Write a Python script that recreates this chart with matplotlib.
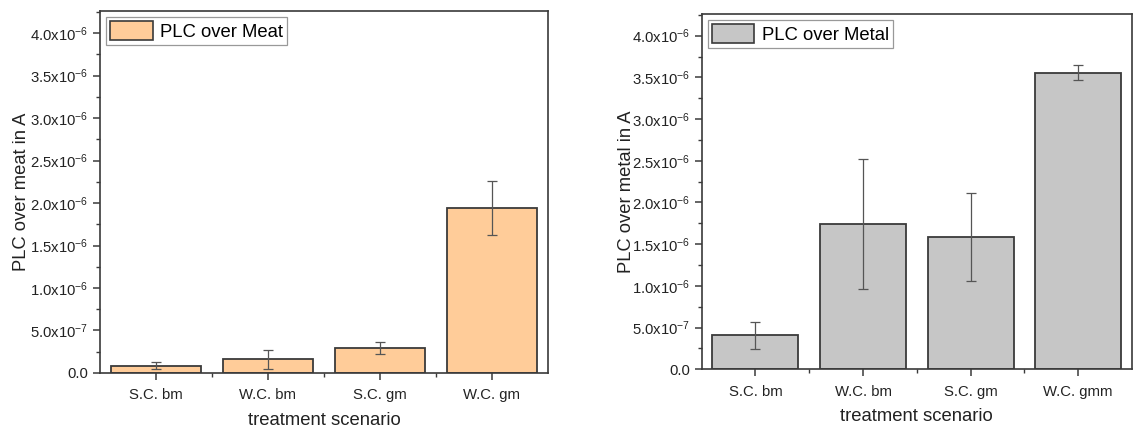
import numpy as np
import matplotlib
matplotlib.use('Agg')
import matplotlib.pyplot as plt
import matplotlib.ticker as plticker

plt.rcParams['font.family'] = ['Liberation Sans', 'DejaVu Sans']
plt.rcParams['mathtext.default'] = 'regular'

scenarios_meat = ['S.C. bm', 'W.C. bm', 'S.C. gm', 'W.C. gm']
scenarios_metal = ['S.C. bm', 'W.C. bm', 'S.C. gm', 'W.C. gmm']

# mean current and standard deviation, in A
meat_mean = [8.5e-8, 1.61e-7, 2.94e-7, 1.945e-6]
meat_err = [4.2e-8, 1.1e-7, 7.4e-8, 3.2e-7]
metal_mean = [4.07e-7, 1.744e-6, 1.588e-6, 3.557e-6]
metal_err = [1.63e-7, 7.8e-7, 5.25e-7, 8.8e-8]

yticks = [0, 0.5e-6, 1.0e-6, 1.5e-6, 2.0e-6, 2.5e-6, 3.0e-6, 3.5e-6, 4.0e-6]

edge = '#3a3a3a'


def sciLabel(v, pos=None):
    if v == 0:
        return '0.0'
    exp = int(np.floor(np.log10(abs(v)) + 1e-9))
    mant = v / 10 ** exp
    return '%.1fx10$^{%d}$' % (mant, exp)


def drawPanel(ax, labels, means, errs, color, legendText, ylabel):
    x = np.arange(len(labels))
    ax.bar(x, means, width=0.8, color=color, edgecolor=edge, linewidth=1.3,
           label=legendText, zorder=2)
    ax.errorbar(x, means, yerr=errs, fmt='none', ecolor='#555555', elinewidth=0.9,
                capsize=3.5, capthick=0.9, zorder=3)
    ax.set_xlim(-0.5, 3.5)
    ax.set_ylim(0, 4.26e-6)
    ax.set_xticks(x)
    ax.set_xticklabels(labels)
    ax.xaxis.set_minor_locator(plticker.FixedLocator([0.5, 1.5, 2.5]))
    ax.set_yticks(yticks)
    ax.yaxis.set_major_formatter(plticker.FuncFormatter(sciLabel))
    ax.yaxis.set_minor_locator(plticker.MultipleLocator(0.25e-6))
    ax.tick_params(which='major', direction='out', length=5, width=1.1,
                   color=edge, labelsize=10.7, labelcolor='#222222')
    ax.tick_params(axis='x', which='major', pad=6)
    ax.tick_params(which='minor', direction='out', length=3, width=1.0, color=edge)
    for s in ax.spines.values():
        s.set_color(edge)
        s.set_linewidth(1.2)
    ax.set_xlabel('treatment scenario', fontsize=13.3, color='#222222', labelpad=7)
    ax.set_ylabel(ylabel, fontsize=13.2, color='#222222')
    ax.yaxis.set_label_coords(-0.156, 0.5)
    leg = ax.legend(loc='upper left', fontsize=13.3, fancybox=False, framealpha=1,
                    edgecolor='#999999', handlelength=2.3, handleheight=1.2,
                    borderpad=0.2, handletextpad=0.4, borderaxespad=0.35)
    leg.get_frame().set_linewidth(0.9)
    for p in leg.get_patches():
        p.set_edgecolor(edge)
        p.set_linewidth(1.2)


fig = plt.figure(figsize=(11.35, 4.3), dpi=100)
ax1 = fig.add_axes([0.0881, 0.1326, 0.3947, 0.8419])
ax2 = fig.add_axes([0.6182, 0.1412, 0.3791, 0.8263])

drawPanel(ax1, scenarios_meat, meat_mean, meat_err, '#FFCC99', 'PLC over Meat',
          'PLC over meat in A')
drawPanel(ax2, scenarios_metal, metal_mean, metal_err, '#C6C6C6', 'PLC over Metal',
          'PLC over metal in A')

fig.savefig('out.png', dpi=100)
